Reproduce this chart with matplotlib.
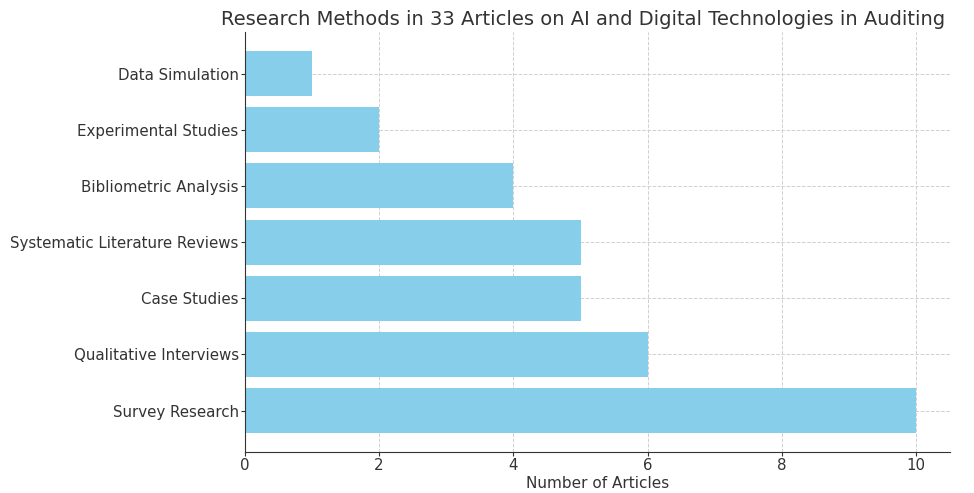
import matplotlib
matplotlib.use("Agg")
import matplotlib.pyplot as plt

methods = ["Survey Research", "Qualitative Interviews", "Case Studies",
           "Systematic Literature Reviews", "Bibliometric Analysis",
           "Experimental Studies", "Data Simulation"]
counts = [10, 6, 5, 5, 4, 2, 1]

plt.rcParams['font.family'] = ['DejaVu Sans']
TXT = '#333333'

fig = plt.figure(figsize=(9.74, 4.93), dpi=100)
ax = fig.add_axes([0.2515, 0.083, 0.7235, 0.852])

ax.barh(methods, counts, color='skyblue', zorder=2)
ax.set_xlabel('Number of Articles', fontsize=11, color=TXT, labelpad=2)
ax.set_title('Research Methods in 33 Articles on AI and Digital Technologies in Auditing',
             fontsize=14, color=TXT, pad=5, x=0.48)
ax.set_xticks([0, 2, 4, 6, 8, 10])
ax.tick_params(labelsize=10.8, colors=TXT, length=3, pad=1.5)
ax.grid(True, linestyle='--', color='#d0d0d0', linewidth=0.7, zorder=0)
ax.spines['top'].set_visible(False)
ax.spines['right'].set_visible(False)
ax.spines['left'].set_color(TXT)
ax.spines['bottom'].set_color(TXT)

fig.savefig('out.png', dpi=100)
